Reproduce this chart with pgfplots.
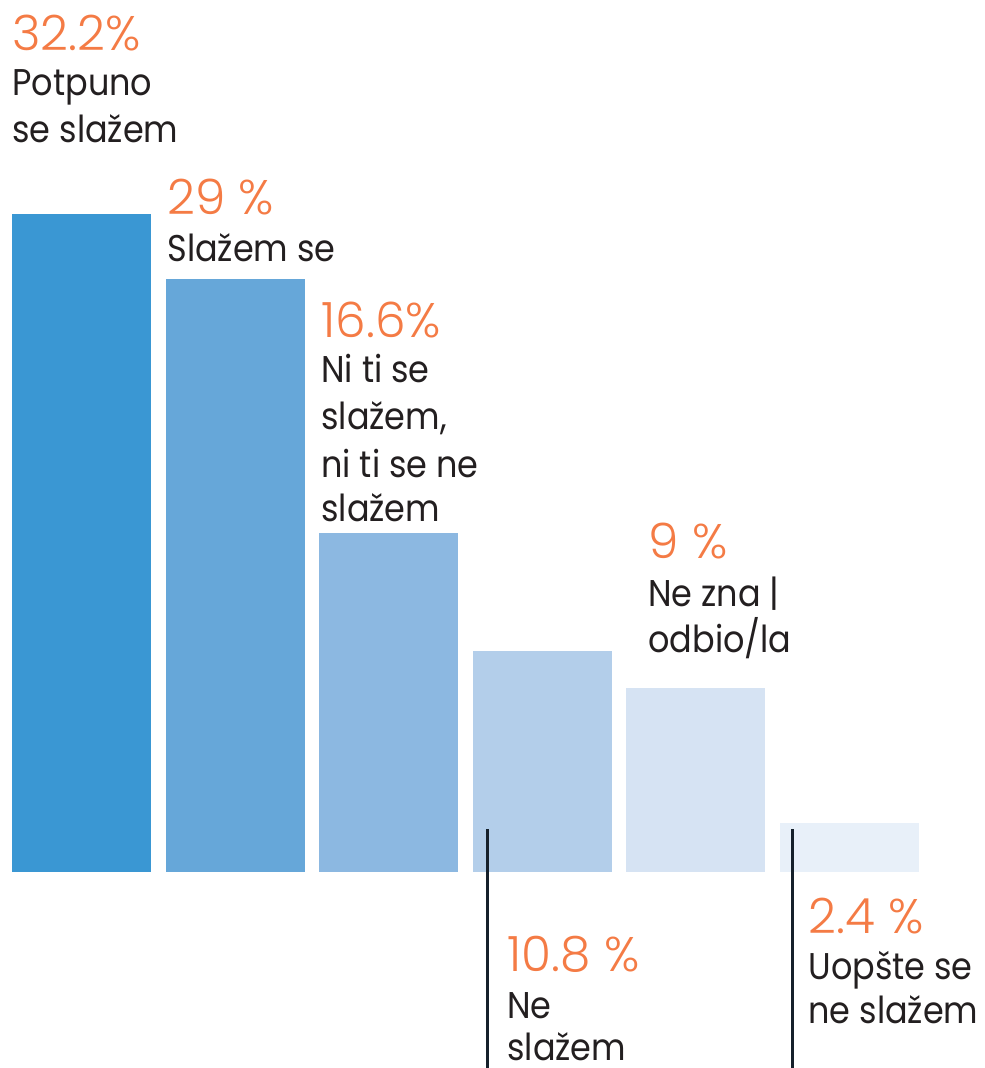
\documentclass[border=0pt]{standalone}
\usepackage{fontspec}
\setmainfont{Poppins}
\newfontfamily\numfont{Poppins}[UprightFont=* Light]
\newfontfamily\txtfont{Poppins}[FakeStretch=0.9]
\usepackage{pgfplots}
\pgfplotsset{compat=1.18}
\definecolor{c1}{HTML}{3A97D3}
\definecolor{c2}{HTML}{66A7D9}
\definecolor{c3}{HTML}{8CB8E1}
\definecolor{c4}{HTML}{B3CEEA}
\definecolor{c5}{HTML}{D6E3F3}
\definecolor{c6}{HTML}{E8F0F9}
\definecolor{org}{HTML}{F47B45}
\definecolor{txt}{HTML}{231F20}
\definecolor{ln}{HTML}{15202B}
\newcommand\pct[3]{\node[anchor=base west, inner sep=0pt, text=org, font=\numfont\fontsize{24.3}{29}\selectfont] at (axis cs:#1,#2) {#3};}
\newcommand\lbl[3]{\node[anchor=base west, inner sep=0pt, text=txt, font=\txtfont\fontsize{18.6}{23}\selectfont] at (axis cs:#1,#2) {#3};}
\begin{document}
\begin{tikzpicture}
\begin{axis}[
  scale only axis, width=492pt, height=534pt,
  hide axis, clip=false,
  xmin=-0.5306, xmax=5.8757, ymin=-9.594, ymax=42.68,
]
\path (rel axis cs:0,0) rectangle (rel axis cs:1,1);
\addplot[ybar, bar width=0.905, bar shift=0pt, fill=c1, draw=none] coordinates {(0,32.2)};
\addplot[ybar, bar width=0.905, bar shift=0pt, fill=c2, draw=none] coordinates {(1,29.0)};
\addplot[ybar, bar width=0.905, bar shift=0pt, fill=c3, draw=none] coordinates {(2,16.6)};
\addplot[ybar, bar width=0.905, bar shift=0pt, fill=c4, draw=none] coordinates {(3,10.8)};
\addplot[ybar, bar width=0.905, bar shift=0pt, fill=c5, draw=none] coordinates {(4,9.0)};
\addplot[ybar, bar width=0.905, bar shift=0pt, fill=c6, draw=none] coordinates {(5,2.4)};
\addplot[ln, line width=1.5pt, mark=none] coordinates {(2.640,2.10) (2.640,-9.8)};
\addplot[ln, line width=1.5pt, mark=none] coordinates {(4.6257,2.10) (4.6257,-9.8)};
% labels
\pct{-0.4525}{40.23}{32.2\%}
\lbl{-0.4525}{37.98}{Potpuno}
\lbl{-0.4525}{35.68}{se slažem}
\pct{0.5566}{32.16}{29 \%}
\lbl{0.5566}{29.86}{Slažem se}
\pct{1.5592}{26.14}{16.6\%}
\lbl{1.5592}{23.94}{Ni ti se}
\lbl{1.5592}{21.64}{slažem,}
\lbl{1.5592}{19.33}{ni ti se ne}
\lbl{1.5592}{17.13}{slažem}
\pct{2.7702}{-4.89}{10.8 \%}
\lbl{2.7702}{-7.15}{Ne}
\lbl{2.7702}{-9.22}{slažem}
\pct{3.6882}{15.32}{9 \%}
\lbl{3.6882}{12.97}{Ne zna |}
\lbl{3.6882}{10.72}{odbio/la}
\pct{4.7298}{-3.03}{2.4 \%}
\lbl{4.7298}{-5.24}{Uopšte se}
\lbl{4.7298}{-7.44}{ne slažem}
\end{axis}
\pgfresetboundingbox
\useasboundingbox (0,0) rectangle (492pt,534pt);
\end{tikzpicture}
\end{document}
